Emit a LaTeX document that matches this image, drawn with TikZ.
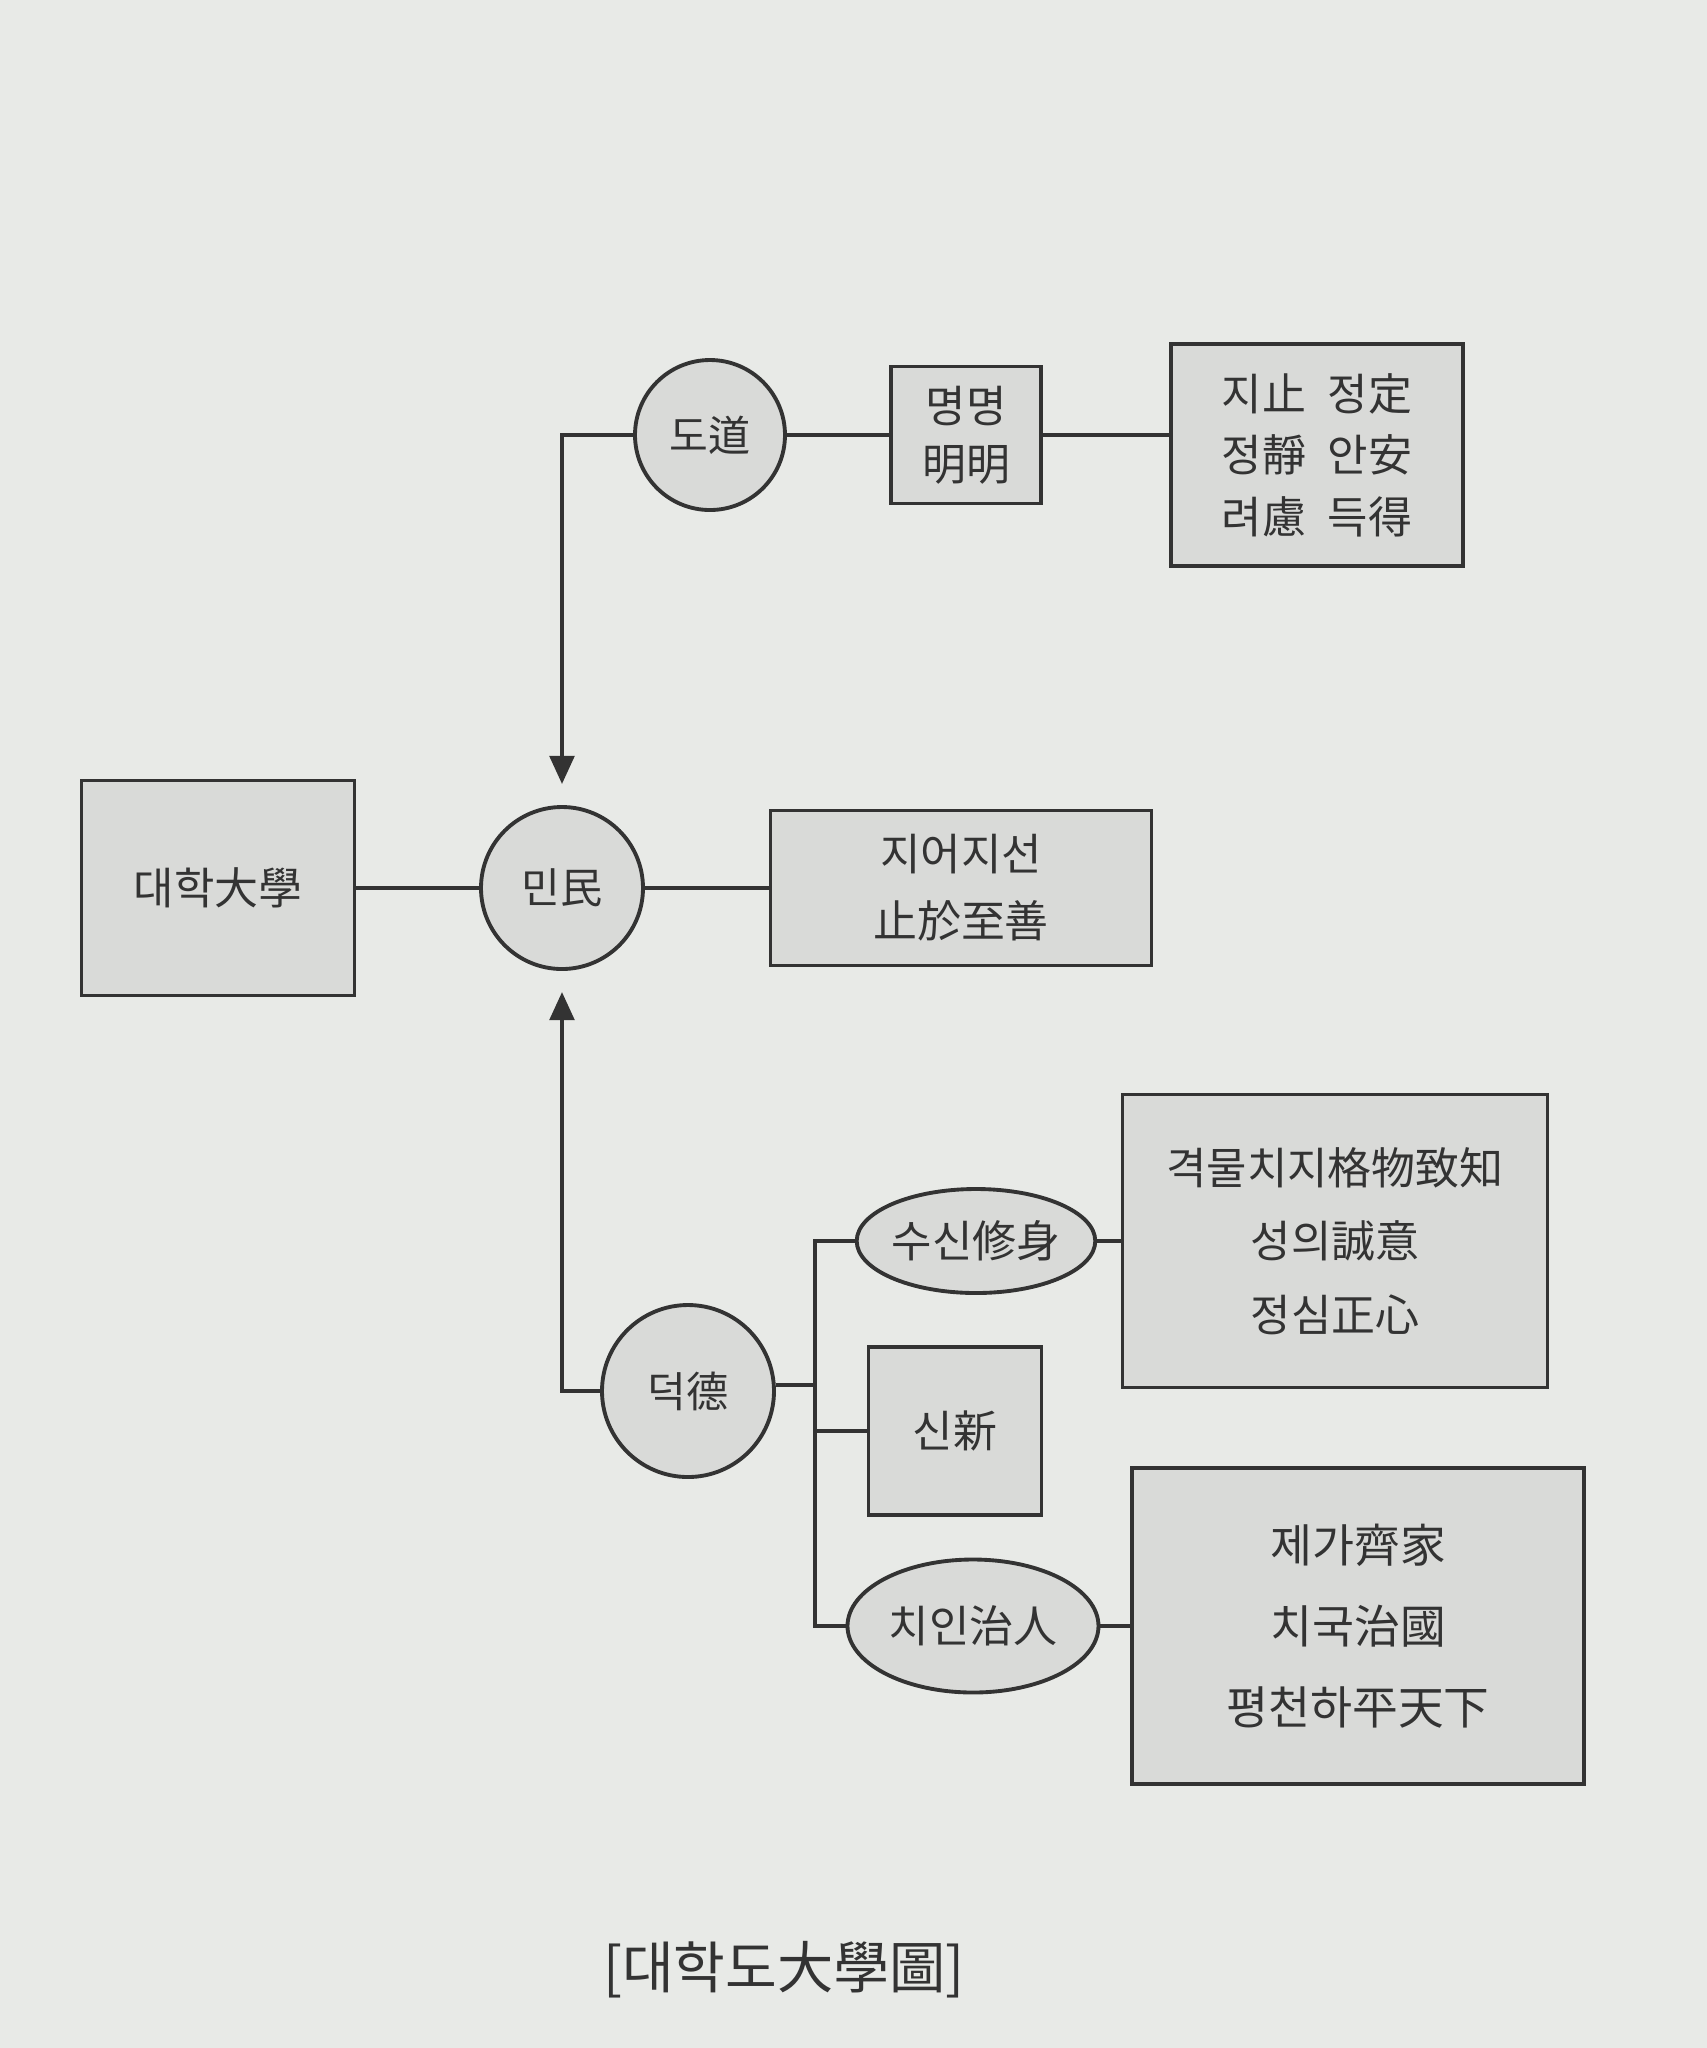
\documentclass[tikz,border=0pt]{standalone}
\usepackage{fontspec}
\newfontfamily\kr{Noto Sans CJK KR}
\usetikzlibrary{shapes.geometric, arrows.meta, positioning, calc}
\definecolor{page}{HTML}{E8EAE7}
\definecolor{boxfill}{HTML}{D9DAD8}
\definecolor{ink}{HTML}{333333}

\begin{document}
\begin{tikzpicture}[line width=1.1pt,
    box/.style={draw=ink, fill=boxfill, rectangle, align=center, inner sep=0pt,
      font=\kr\fontsize{12.5}{21}\selectfont, text=ink},
    circ/.style={draw=ink, fill=boxfill, circle, inner sep=0pt,
      font=\kr\fontsize{12}{14}\selectfont, text=ink},
    oval/.style={draw=ink, fill=boxfill, ellipse, inner sep=0pt,
      font=\kr\fontsize{12.5}{14}\selectfont, text=ink},
    link/.style={draw=ink},
    up/.style={draw=ink, -{Triangle[length=8pt, width=7pt]}, shorten >=6pt}]
      \fill[page] (0, 0) rectangle (17.07, -20.48);
      \useasboundingbox (0, 0) rectangle (17.07, -20.48);
      % top row
      \node[circ, minimum size=1.5cm] (do) at (7.10, -4.35) {도道};
      \node[box, minimum width=1.5cm, minimum height=1.37cm, font=\kr\fontsize{12.5}{16.5}\selectfont] (myeong) at (9.66, -4.35) {명명\\明明};
      \node[box, minimum width=2.92cm, minimum height=2.22cm, font=\kr\fontsize{12.5}{17.5}\selectfont] (jizhi) at (13.17, -4.55) {지止\enspace 정定\\정靜\enspace 안安\\려慮\enspace 득得};
      % middle row
      \node[box, minimum width=2.73cm, minimum height=2.15cm] (daehak) at (2.18, -8.88) {대학大學};
      \node[circ, minimum size=1.62cm] (min) at (5.62, -8.88) {민民};
      \node[box, minimum width=3.81cm, minimum height=1.55cm, font=\kr\fontsize{12.5}{19}\selectfont] (jiseon) at (9.61, -8.88) {지어지선\\止於至善};
      % bottom group
      \node[circ, minimum size=1.72cm] (deok) at (6.88, -13.91) {덕德};
      \node[oval, minimum width=2.38cm, minimum height=1.04cm] (susin) at (9.76, -12.41) {수신修身};
      \node[box, minimum width=4.25cm, minimum height=2.93cm] (gyeok) at (13.35, -12.41) {격물치지格物致知\\성의誠意\\정심正心};
      \node[box, minimum width=1.73cm, minimum height=1.68cm] (sin) at (9.55, -14.31) {신新};
      \node[oval, minimum width=2.51cm, minimum height=1.33cm] (chiin) at (9.73, -16.26) {치인治人};
      \node[box, minimum width=4.52cm, minimum height=3.16cm, font=\kr\fontsize{13}{23}\selectfont] (jega) at (13.58, -16.26) {제가齊家\\치국治國\\평천하平天下};
      \coordinate (trunk) at (8.15, -13.85);
      % caption
      \node[font=\kr\fontsize{16}{18}\selectfont, text=ink] (caption) at (7.84, -19.70) {[대학도大學圖]};
      % connectors
      \draw[link] (do) -- (myeong);
      \draw[link] (myeong.east) -- (myeong.east -| jizhi.west);
      \draw[link] (daehak) -- (min);
      \draw[link] (min) -- (jiseon);
      \draw[up] (do.west) -| (min.north);
      \draw[up] (deok.west) -| (min.south);
      \draw[link] (deok.east |- trunk) -- (trunk);
      \draw[link] (susin.west) -| (trunk) |- (chiin.west);
      \draw[link] (trunk |- sin.west) -- (sin.west);
      \draw[link] (susin) -- (gyeok);
      \draw[link] (chiin) -- (jega);
    \end{tikzpicture}
\end{document}
